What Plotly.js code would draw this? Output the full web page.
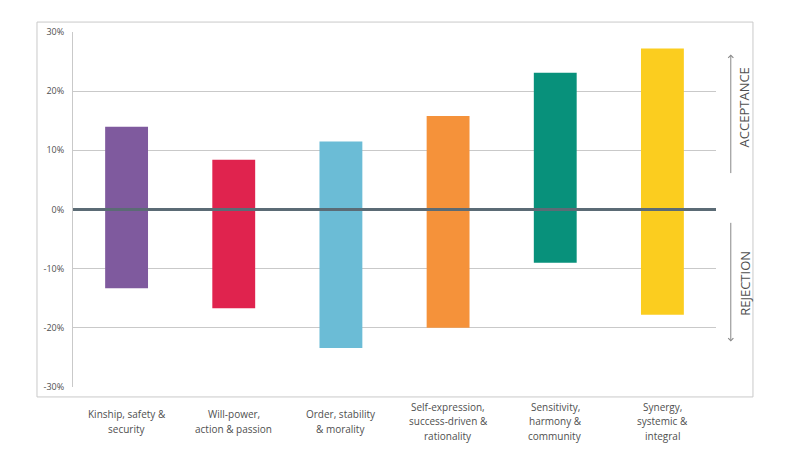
<!DOCTYPE html>
<html><head><meta charset="utf-8">
<script src="https://cdn.plot.ly/plotly-3.0.1.min.js"></script>
<style>html,body{margin:0;padding:0;background:#fff}#chart{width:800px;height:453px}</style>
</head><body><div id="chart"></div>
<script>
const categories = [
  "Kinship, safety &<br>security",
  "Will-power,<br>action & passion",
  "Order, stability<br>& morality",
  "Self-expression,<br>success-driven &<br>rationality",
  "Sensitivity,<br>harmony &<br>community",
  "Synergy,<br>systemic &<br>integral"
];
const acceptance = [14.0, 8.4, 11.5, 15.8, 23.1, 27.2];
const rejection = [-13.3, -16.7, -23.4, -20.0, -9.0, -17.8];
const colors = ["#7f5a9e", "#e0234e", "#6bbcd6", "#f5923a", "#08917b", "#fbcd1f"];
const yTicks = [-30, -20, -10, 0, 10, 20, 30];
const yTickText = yTicks.map(v => v + "%");

const font = "Open Sans, sans-serif";
const textColor = "#4f4f4f";
const traces = [
  {type: "bar", x: categories, y: acceptance, marker: {color: colors, line: {width: 0}}, width: 0.4, hoverinfo: "skip"},
  {type: "bar", x: categories, y: rejection, marker: {color: colors, line: {width: 0}}, width: 0.4, hoverinfo: "skip"}
];

const lineGap = 14.5;
const catAnnotations = [];
categories.forEach(c => {
  const lines = c.split("<br>");
  lines.forEach((ln, i) => {
    catAnnotations.push({
      x: c, xref: "x", y: -0.097, yref: "paper", text: ln, showarrow: false,
      xanchor: "center", yanchor: "middle", align: "center",
      yshift: -(i - (lines.length - 1) / 2) * lineGap,
      font: {family: font, size: 10, color: textColor}
    });
  });
});

const layout = {
  width: 800, height: 453,
  margin: {l: 73, r: 84, t: 32, b: 66},
  paper_bgcolor: "#fff", plot_bgcolor: "#fff",
  barmode: "relative",
  showlegend: false,
  xaxis: {showticklabels: false, showgrid: false, zeroline: false, showline: false, fixedrange: true},
  yaxis: {
    range: [-30, 30], tickvals: yTicks, ticktext: yTickText,
    showgrid: true, gridcolor: "#c9c9c9", gridwidth: 1,
    zeroline: false, showline: true, linecolor: "#c9c9c9", linewidth: 1,
    ticks: "", ticklabelstandoff: 6,
    tickfont: {family: font, size: 9, color: textColor}
  },
  shapes: [
    {type: "line", xref: "paper", x0: 0, x1: 1, yref: "y", y0: 0, y1: 0, layer: "above",
     line: {color: "#5b6b75", width: 3}},
    {type: "rect", xref: "paper", yref: "paper", x0: -0.056, x1: 1.0575, y0: -0.028, y1: 1.028,
     line: {color: "#c9c9c9", width: 1}, layer: "below"}
  ],
  annotations: catAnnotations.concat([
    {xref: "paper", yref: "y", x: 1.023, y: 26.2, ax: 1.023, ay: 5.9, axref: "paper", ayref: "y",
     showarrow: true, arrowhead: 4, arrowsize: 1, arrowwidth: 1, arrowcolor: "#888", text: ""},
    {xref: "paper", yref: "y", x: 1.023, y: -22.3, ax: 1.023, ay: -2.0, axref: "paper", ayref: "y",
     showarrow: true, arrowhead: 4, arrowsize: 1, arrowwidth: 1, arrowcolor: "#888", text: ""},
    {xref: "paper", yref: "y", x: 1.043, y: 17.2, text: "ACCEPTANCE", showarrow: false, textangle: -90,
     xanchor: "center", yanchor: "middle", font: {family: font, size: 13, color: textColor}},
    {xref: "paper", yref: "y", x: 1.045, y: -12.4, text: "REJECTION", showarrow: false, textangle: -90,
     xanchor: "center", yanchor: "middle", font: {family: font, size: 13, color: textColor}}
  ])
};

Plotly.newPlot("chart", traces, layout, {displayModeBar: false, staticPlot: true});
</script>
</body></html>
